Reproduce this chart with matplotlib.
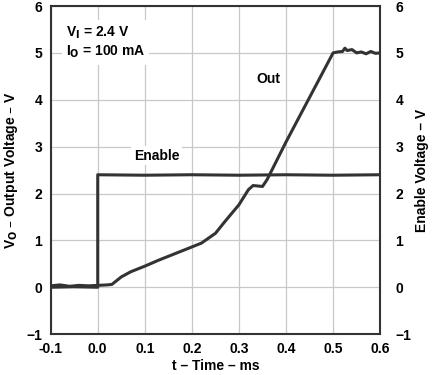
import matplotlib
matplotlib.use('Agg')
import matplotlib.pyplot as plt

plt.rcParams['font.family'] = ['Liberation Sans', 'DejaVu Sans']
plt.rcParams['font.weight'] = 'bold'

# ==========================================
# data
# ==========================================
out_t = [-0.1, -0.08, -0.06, -0.04, -0.02, 0.0, 0.02, 0.03, 0.05, 0.07, 0.1,
         0.13, 0.16, 0.2, 0.22, 0.25, 0.27, 0.3, 0.32, 0.33, 0.35, 0.36, 0.4,
         0.45, 0.5, 0.51, 0.52, 0.525, 0.53, 0.54, 0.55, 0.56, 0.57, 0.58,
         0.59, 0.6]
out_v = [0.03, 0.05, 0.02, 0.04, 0.03, 0.04, 0.05, 0.06, 0.22, 0.33, 0.45,
         0.58, 0.7, 0.86, 0.94, 1.15, 1.4, 1.76, 2.08, 2.17, 2.15, 2.3, 3.1,
         4.05, 5.0, 5.02, 5.03, 5.1, 5.05, 5.07, 5.0, 5.02, 4.98, 5.03,
         4.99, 5.0]

enable_t = [-0.1, -0.05, 0.0, 0.0, 0.1, 0.2, 0.3, 0.4, 0.5, 0.6]
enable_v = [0.0, 0.01, 0.0, 2.4, 2.39, 2.4, 2.39, 2.4, 2.39, 2.4]

x_ticks = [-0.1, 0.0, 0.1, 0.2, 0.3, 0.4, 0.5, 0.6]
y_ticks = [-1, 0, 1, 2, 3, 4, 5, 6]

line_col = '#333333'
fs = 10

fig = plt.figure(figsize=(4.33, 3.75), dpi=100)
ax = fig.add_axes([0.117, 0.109, 0.761, 0.875])

ax.plot(out_t, out_v, color=line_col, linewidth=2.2, zorder=3)
ax.plot(enable_t, enable_v, color=line_col, linewidth=2.2, zorder=3)

ax.set_xlim(-0.1, 0.6)
ax.set_ylim(-1, 6)
ax.set_xticks(x_ticks)
ax.set_xticklabels([f'{v:.1f}' for v in x_ticks])
ax.set_yticks(y_ticks)
ax.set_yticklabels(['\u22121' if v < 0 else str(v) for v in y_ticks])
ax.grid(True, color='#c8c8c8', linewidth=0.9)
ax.tick_params(length=0, labelsize=fs, pad=6)
for s in ax.spines.values():
    s.set_color('#333333')
    s.set_linewidth(1.5)

ax2 = ax.twinx()
ax2.set_ylim(-1, 6)
ax2.set_yticks(y_ticks)
ax2.set_yticklabels(['\u22121' if v < 0 else str(v) for v in y_ticks])
ax2.tick_params(length=0, labelsize=fs, pad=11)
for s in ax2.spines.values():
    s.set_visible(False)

ax.set_xlabel('t \u2013 Time \u2013 ms', fontsize=fs, fontweight='bold', labelpad=2)
ax.set_ylabel('V$_\\mathbf{O}$ \u2013 Output Voltage \u2013 V', fontsize=fs,
              fontweight='bold', labelpad=5)
ax2.set_ylabel('Enable Voltage \u2013 V', fontsize=fs, fontweight='bold', labelpad=3)

ax.text(-0.068, 5.22, 'V$_\\mathbf{I}$ = 2.4 V\nI$_\\mathbf{O}$ = 100 mA', fontsize=fs,
        fontweight='bold', va='center', ha='left', linespacing=1.25,
        bbox=dict(facecolor='white', edgecolor='none', pad=3), zorder=4)
ax.text(0.125, 2.81, 'Enable', fontsize=fs, fontweight='bold', ha='center',
        va='center', bbox=dict(facecolor='white', edgecolor='none', pad=2), zorder=4)
ax.text(0.363, 4.44, 'Out', fontsize=fs, fontweight='bold', ha='center',
        va='center', bbox=dict(facecolor='white', edgecolor='none', pad=2), zorder=4)

fig.savefig('out.png', dpi=100)
